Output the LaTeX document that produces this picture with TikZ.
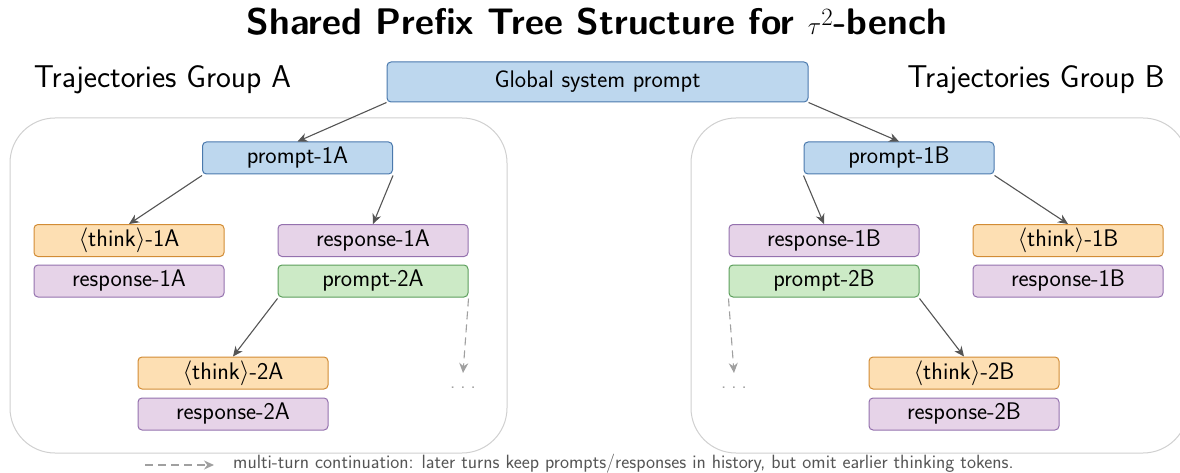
\documentclass[tikz,border=0pt]{standalone}
\usetikzlibrary{arrows.meta}
\definecolor{bfill}{HTML}{BDD7EE}
\definecolor{bdraw}{HTML}{4A79AD}
\definecolor{ofill}{HTML}{FDDFB3}
\definecolor{odraw}{HTML}{D28C35}
\definecolor{pfill}{HTML}{E6D3E8}
\definecolor{pdraw}{HTML}{9471AE}
\definecolor{gfill}{HTML}{CCEAC6}
\definecolor{gdraw}{HTML}{5C9E5C}
\definecolor{arr}{HTML}{555555}
\definecolor{dsh}{HTML}{A0A0A0}
\definecolor{grp}{HTML}{D0D0D0}
\tikzset{
  box/.style={rectangle, rounded corners=4pt, line width=1pt, minimum width=190pt, minimum height=32pt, inner sep=0pt, font=\fontsize{24}{26}\selectfont\sffamily},
  bluebox/.style={box, fill=bfill, draw=bdraw},
  orangebox/.style={box, fill=ofill, draw=odraw},
  purplebox/.style={box, fill=pfill, draw=pdraw},
  greenbox/.style={box, fill=gfill, draw=gdraw},
  conn/.style={draw=arr, line width=1.1pt, -{Stealth[length=10pt,width=9pt]}},
  cont/.style={draw=dsh, line width=1.1pt, dash pattern=on 8pt off 5pt, -{Stealth[length=10pt,width=9pt]}},
  group/.style={draw=grp, line width=1pt, rounded corners=45pt},
  grplabel/.style={font=\fontsize{31.5}{34}\selectfont\sffamily},
  dotsnode/.style={text=dsh, font=\fontsize{20}{20}\selectfont\sffamily, inner sep=0pt, anchor=base},
}
\newcommand{\spdots}{.\hspace{5pt}.\hspace{5pt}.}
\begin{document}
\begin{tikzpicture}[x=1pt,y=-1pt]
\useasboundingbox (0,0) rectangle (1180,473);
% title
\node[font=\fontsize{37}{40}\selectfont\sffamily\bfseries] (title) at (597,22) {Shared Prefix Tree Structure for $\tau^2$-bench};
% group containers
\draw[group] (10,118) rectangle (507,453);
\draw[group] (691,118) rectangle (1188,453);
\node[grplabel] (labA) at (162.5,80) {Trajectories Group A};
\node[grplabel] (labB) at (1036,80) {Trajectories Group B};
% global
\node[bluebox, minimum width=421pt, minimum height=40pt] (glob) at (597.5,82) {Global system prompt};
% group A
\node[bluebox] (p1A) at (297.5,158) {prompt-1A};
\node[orangebox] (t1A) at (129,240.5) {$\langle$think$\rangle$-1A};
\node[purplebox] (r1Aa) at (129,281) {response-1A};
\node[purplebox] (r1A) at (373,240.5) {response-1A};
\node[greenbox] (p2A) at (373,281) {prompt-2A};
\node[orangebox] (t2A) at (233,373) {$\langle$think$\rangle$-2A};
\node[purplebox] (r2A) at (233,414) {response-2A};
\coordinate (cA) at (463,373);
\node[dotsnode] (dA) at (463,388) {\spdots};
% group B
\node[bluebox] (p1B) at (899,158) {prompt-1B};
\node[purplebox] (r1B) at (824,240.5) {response-1B};
\node[greenbox] (p2B) at (824,281) {prompt-2B};
\node[orangebox] (t1B) at (1068,240.5) {$\langle$think$\rangle$-1B};
\node[purplebox] (r1Bb) at (1068,281) {response-1B};
\node[orangebox] (t2B) at (964,373) {$\langle$think$\rangle$-2B};
\node[purplebox] (r2B) at (964,414) {response-2B};
\coordinate (cB) at (734,373);
\node[dotsnode] (dB) at (734,388) {\spdots};
% connectors
\draw[conn] (glob.south west) -- (p1A.north);
\draw[conn] (glob.south east) -- (p1B.north);
\draw[conn] ([yshift=-1pt]p1A.south west) -- (t1A.north);
\draw[conn] ([yshift=-1pt]p1A.south east) -- (r1A.north);
\draw[conn] ([yshift=-1pt]p2A.south west) -- (t2A.north);
\draw[cont] ([yshift=-1pt]p2A.south east) -- (cA);
\draw[conn] ([yshift=-1pt]p1B.south west) -- (r1B.north);
\draw[conn] ([yshift=-1pt]p1B.south east) -- (t1B.north);
\draw[conn] ([yshift=-1pt]p2B.south east) -- (t2B.north);
\draw[cont] ([yshift=-1pt]p2B.south west) -- (cB);
% legend
\coordinate (l1) at (145,465);
\coordinate (l2) at (214,465);
\draw[cont] (l1) -- (l2);
\node[anchor=west, text=arr, font=\fontsize{19.2}{20}\selectfont\sffamily, inner sep=0pt] (leg) at (233,464) {multi-turn continuation: later turns keep prompts/responses in history, but omit earlier thinking tokens.};
\end{tikzpicture}
\end{document}
